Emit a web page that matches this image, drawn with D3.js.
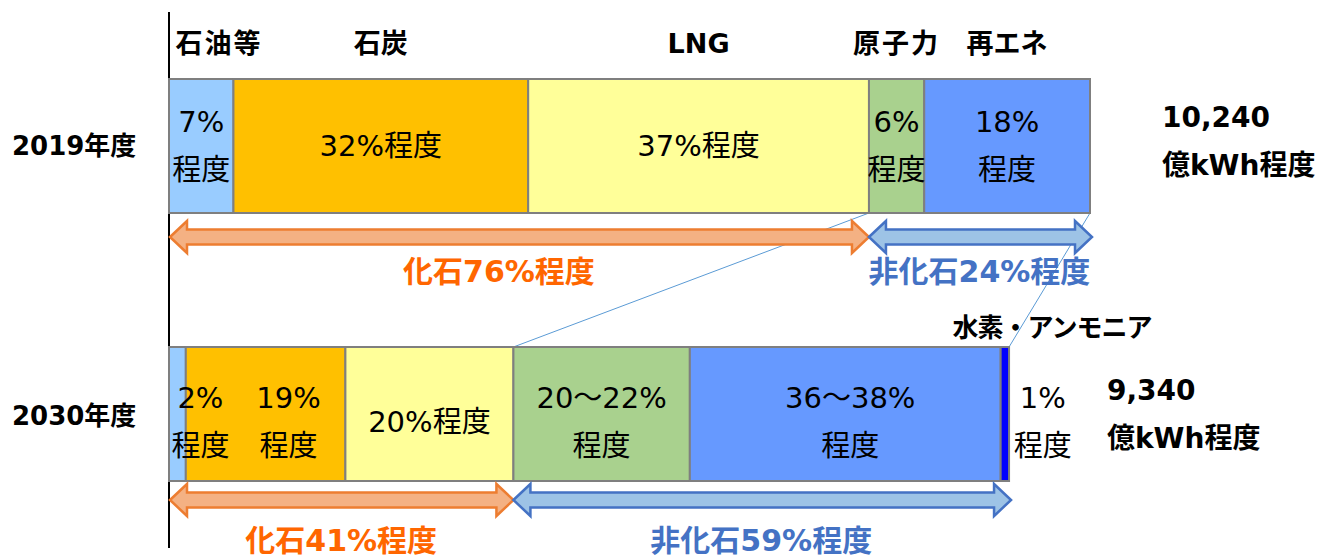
<!DOCTYPE html>
<html><head><meta charset="utf-8">
<script src="https://cdn.jsdelivr.net/npm/d3@7"></script>
<style>
html,body{margin:0;padding:0;background:#fff;}
svg{display:block;font-family:"DejaVu Sans","Noto Sans CJK JP",sans-serif;}
</style></head>
<body><svg id="c" width="1326" height="558"></svg>
<script>
// ---- data ----
const categories = ["石油等", "石炭", "LNG", "原子力", "再エネ", "水素・アンモニア"];
const years = ["2019年度", "2030年度"];
const totals = [10240, 9340];                 // 億kWh
const totalLabels = ["10,240", "9,340"];
const shares2019 = [7, 32, 37, 6, 18, 0];
const shares2030 = [2, 19, 20, 21, 37, 1];
const fossilFlags = [true, true, true, false, false, false];
const labels2019 = [["7%", "程度"], ["32%程度"], ["37%程度"], ["6%", "程度"], ["18%", "程度"], []];
const labels2030 = [["2%", "程度"], ["19%", "程度"], ["20%程度"], ["20～22%", "程度"], ["36～38%", "程度"], ["1%", "程度"]];
const fossilLabels = ["化石76%程度", "化石41%程度"];
const nonFossilLabels = ["非化石24%程度", "非化石59%程度"];
const unitLabel = "億kWh程度";

// ---- styles ----
const colors = ["#99CCFF", "#FFC000", "#FFFF99", "#A9D18E", "#6699FF", "#0000FF"];

const svg = d3.select("#c");
const x = d3.scaleLinear().domain([0, totals[0]]).range([169, 1090]);
const y = d3.scaleBand().domain(years).range([79, 481]).paddingInner(0.5);
const bw = y.bandwidth();

const rows = [shares2019, shares2030].map((sh, r) => {
  let acc = 0;
  const segs = sh.map((s, i) => {
    const v = s / 100 * totals[r];
    const seg = {r, i, x0: acc, x1: acc + v, s};
    acc += v;
    return seg;
  });
  const fossil = d3.sum(segs.filter((d, i) => fossilFlags[i]), d => d.x1 - d.x0);
  return {segs, fossil, total: acc};
});

// axis line
svg.append("line").attr("x1", x(0)).attr("x2", x(0)).attr("y1", 12).attr("y2", 548)
  .attr("stroke", "#000").attr("stroke-width", 2);

// connectors
const cb = "#5B9BD5";
svg.append("line").attr("x1", x(rows[0].fossil)).attr("y1", y(years[0]) + bw)
  .attr("x2", x(rows[1].fossil)).attr("y2", y(years[1])).attr("stroke", cb).attr("stroke-width", 1);
svg.append("line").attr("x1", x(rows[0].total)).attr("y1", y(years[0]) + bw)
  .attr("x2", x(rows[1].total)).attr("y2", y(years[1])).attr("stroke", cb).attr("stroke-width", 1);

// bars
rows.forEach((row, r) => {
  svg.append("g").selectAll("rect").data(row.segs.filter(d => d.s > 0)).join("rect")
    .attr("x", d => x(d.x0)).attr("y", y(years[r]))
    .attr("width", d => x(d.x1) - x(d.x0)).attr("height", bw)
    .attr("fill", d => colors[d.i]).attr("stroke", "#7F7F7F").attr("stroke-width", 2);
});

// value labels
const labelDx = [[0, 0, 0, 0, 0, 0], [23, 23, 0, 0, 5, 38]];
const labelDy = [0, 8];
[labels2019, labels2030].forEach((labs, r) => {
  const row = rows[r];
  labs.forEach((lines, i) => {
    if (!lines.length) return;
    const seg = row.segs[i];
    const cx = x((seg.x0 + seg.x1) / 2) + labelDx[r][i];
    const cy = y(years[r]) + bw / 2 + labelDy[r];
    const gap = 48;
    lines.forEach((t, k) => {
      svg.append("text").attr("x", cx)
        .attr("y", cy + (k - (lines.length - 1) / 2) * gap)
        .attr("text-anchor", "middle").attr("dominant-baseline", "central")
        .attr("font-size", 29).attr("fill", "#000").text(t);
    });
  });
});

// category labels (top)
rows[0].segs.slice(0, 5).forEach((seg, i) => {
  const cx = i === 0 ? x(seg.x0) + 50 : x((seg.x0 + seg.x1) / 2);
  svg.append("text").attr("x", cx).attr("y", 43)
    .attr("text-anchor", "middle").attr("dominant-baseline", "central")
    .attr("font-size", 27).attr("font-weight", "bold").attr("letter-spacing", i === 0 || i === 3 ? 2 : 0)
    .text(categories[i]);
});
// hydrogen label
svg.append("text").attr("x", x(rows[1].total) + 43).attr("y", 328)
  .attr("text-anchor", "middle").attr("dominant-baseline", "central")
  .attr("font-size", 26).attr("font-weight", "bold").attr("letter-spacing", -1).text(categories[5]);

// year labels
years.forEach((yr, r) => {
  svg.append("text").attr("x", 12).attr("y", y(yr) + bw / 2 + (r ? 2 : 0))
    .attr("dominant-baseline", "central")
    .attr("font-size", 26).attr("font-weight", "bold").text(yr);
});

// totals
const totX = [1162, 1107];
const totY = [117, 390];
totalLabels.forEach((t, r) => {
  svg.append("text").attr("x", totX[r]).attr("y", totY[r]).attr("dominant-baseline", "central")
    .attr("font-size", 28).attr("font-weight", "bold").text(t);
  svg.append("text").attr("x", totX[r]).attr("y", totY[r] + 48).attr("dominant-baseline", "central")
    .attr("font-size", 28).attr("font-weight", "bold").text(unitLabel);
});

// arrows
function arrowPath(x1, x2, yc) {
  const h = 7.5, H = 16, L = 17;
  return `M${x1},${yc}L${x1 + L},${yc - H}L${x1 + L},${yc - h}L${x2 - L},${yc - h}L${x2 - L},${yc - H}L${x2},${yc}` +
    `L${x2 - L},${yc + H}L${x2 - L},${yc + h}L${x1 + L},${yc + h}L${x1 + L},${yc + H}Z`;
}
const arrowDy = [24, 19];
const textDy = [58, 59];
const textDx = [-20, 0];
rows.forEach((row, r) => {
  const yc = y(years[r]) + bw + arrowDy[r];
  const a = x(0), m = x(row.fossil), b = x(row.total);
  svg.append("path").attr("d", arrowPath(a + 1, m, yc))
    .attr("fill", "#F4B183").attr("stroke", "#ED7D31").attr("stroke-width", 2.5).attr("stroke-linejoin", "miter");
  svg.append("path").attr("d", arrowPath(m, b + 2, yc))
    .attr("fill", "#9DC3E6").attr("stroke", "#4472C4").attr("stroke-width", 2.5).attr("stroke-linejoin", "miter");
  svg.append("text").attr("x", (a + m) / 2 + textDx[r]).attr("y", y(years[r]) + bw + textDy[r])
    .attr("text-anchor", "middle").attr("dominant-baseline", "central")
    .attr("font-size", 30).attr("font-weight", "bold").attr("fill", "#FF6600").text(fossilLabels[r]);
  svg.append("text").attr("x", (m + b) / 2).attr("y", y(years[r]) + bw + textDy[r])
    .attr("text-anchor", "middle").attr("dominant-baseline", "central")
    .attr("font-size", 30).attr("font-weight", "bold").attr("fill", "#4472C4").text(nonFossilLabels[r]);
});
</script></body></html>
